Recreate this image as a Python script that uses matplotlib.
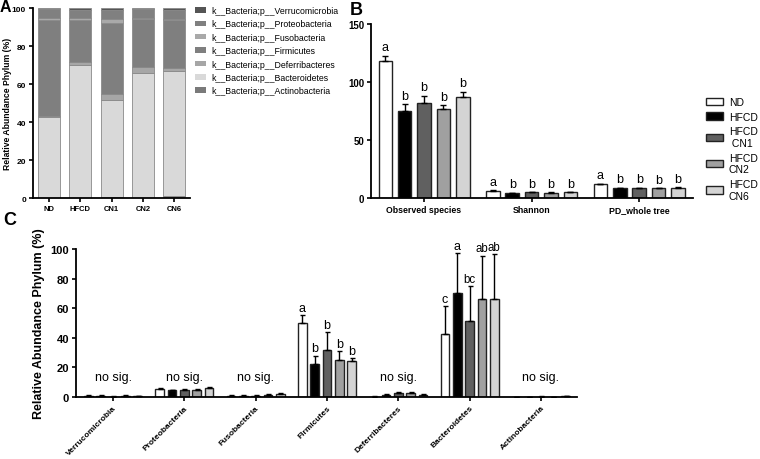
import matplotlib
matplotlib.use("Agg")
import matplotlib.pyplot as plt
import numpy as np
from matplotlib.patches import Patch

plt.rcParams['font.family'] = ['Liberation Sans', 'DejaVu Sans']

# ---------------- Data ----------------
groups_A = ["ND", "HFCD", "CN1", "CN2", "CN6"]
phyla_stack = ["Actinobacteria", "Bacteroidetes", "Deferribacteres", "Firmicutes",
               "Fusobacteria", "Proteobacteria", "Verrucomicrobia"]
stackA_actino = [0.2, 0.2, 0.3, 0.2, 0.8]
stackA_bactero = [42.6, 70.0, 51.3, 65.8, 66.2]
stackA_deferri = [0.5, 1.5, 3.4, 3.0, 1.5]
stackA_firmi = [50.3, 22.0, 37.0, 25.0, 25.0]
stackA_fuso = [1.2, 0.8, 2.0, 1.0, 0.5]
stackA_proteo = [4.7, 4.5, 5.0, 4.5, 5.0]
stackA_verruco = [0.5, 1.0, 1.0, 0.5, 1.0]
stack_colors = ["#7a7a7a", "#d9d9d9", "#a6a6a6", "#7f7f7f", "#a9a9a9", "#808080", "#555555"]

treat_labels = ["ND", "HFCD", "HFCD\n CN1", "HFCD\nCN2", "HFCD\nCN6"]
treat_colors = ["#ffffff", "#000000", "#606060", "#a0a0a0", "#d4d4d4"]

metrics = ["Observed species", "Shannon", "PD_whole tree"]
alpha_mean = [[118.0, 75.3, 81.6, 77.0, 87.4],
              [6.2, 4.4, 4.9, 4.5, 4.9],
              [11.8, 8.6, 8.6, 8.3, 9.0]]
alpha_err = [[4.7, 5.7, 6.6, 3.0, 4.3],
             [0.4, 0.3, 0.3, 0.3, 0.3],
             [0.6, 0.4, 0.4, 0.3, 0.4]]
alpha_letters = [["a", "b", "b", "b", "b"],
                 ["a", "b", "b", "b", "b"],
                 ["a", "b", "b", "b", "b"]]

phyla_C = ["Verrucomicrobia", "Proteobacteria", "Fusobacteria", "Firmicutes",
           "Deferribacteres", "Bacteroidetes", "Actinobacteria"]
abund_mean = [[1.0, 1.0, 0.3, 0.8, 0.6],
              [5.5, 4.5, 4.7, 5.0, 6.0],
              [0.8, 0.9, 0.9, 1.6, 2.2],
              [50.3, 22.0, 32.0, 25.0, 24.0],
              [0.3, 1.5, 3.0, 3.0, 1.5],
              [42.4, 70.0, 51.5, 66.0, 66.5],
              [0.2, 0.2, 0.3, 0.2, 0.6]]
abund_err = [[0.3, 0.3, 0.2, 0.3, 0.2],
             [0.5, 0.4, 0.4, 0.5, 0.6],
             [0.3, 0.3, 0.3, 0.3, 0.3],
             [5.0, 6.0, 12.0, 5.8, 2.2],
             [0.2, 0.4, 0.5, 0.6, 0.4],
             [19.2, 27.0, 23.2, 29.5, 29.9],
             [0.1, 0.1, 0.2, 0.1, 0.3]]
abund_letters = [None, None, None,
                 ["a", "b", "b", "b", "b"],
                 None,
                 ["c", "a", "bc", "ab", "ab"],
                 None]

W, H = 760, 460
fig = plt.figure(figsize=(7.6, 4.6), dpi=100)


def rect(x0, y0, x1, y1):
    # pixel box (top-left origin) -> figure fraction
    return [x0 / W, 1 - y1 / H, (x1 - x0) / W, (y1 - y0) / H]


def style(ax):
    for s in ["top", "right"]:
        ax.spines[s].set_visible(False)
    for s in ["left", "bottom"]:
        ax.spines[s].set_linewidth(1.3)
    ax.tick_params(width=1.2, length=3, pad=2)


# ---------------- Panel A ----------------
axA = fig.add_axes(rect(33, 9, 190, 199))
style(axA)
xa = np.arange(len(groups_A))
layers = [stackA_actino, stackA_bactero, stackA_deferri, stackA_firmi,
          stackA_fuso, stackA_proteo, stackA_verruco]
bottom = np.zeros(len(groups_A))
handles = []
for vals, col, name in zip(layers, stack_colors, phyla_stack):
    axA.bar(xa, vals, width=0.7, bottom=bottom, color=col, edgecolor="#8a8a8a", linewidth=0.6)
    bottom = bottom + np.array(vals)
    handles.append(Patch(facecolor=col, edgecolor="none", label="k__Bacteria;p__" + name))
axA.set_xlim(-0.51, 4.5)
axA.set_ylim(0, 100)
axA.set_yticks([0, 20, 40, 60, 80, 100])
axA.set_xticks(xa)
axA.set_xticklabels(groups_A, fontsize=5.5, fontweight="bold")
for t in axA.get_yticklabels():
    t.set_fontsize(6)
    t.set_fontweight("bold")
axA.set_ylabel("Relative Abundance Phylum (%)", fontsize=6.2, fontweight="bold")
axA.yaxis.set_label_coords(-0.135, 0.5)
fig.legend(handles=handles[::-1], loc="upper left", bbox_to_anchor=(195 / W, 1 - 7 / H),
           frameon=False, fontsize=6.3, handlelength=1.3, handleheight=0.6,
           labelspacing=0.5, handletextpad=0.6, borderaxespad=0, borderpad=0)
fig.text(0 / W, 1 - 0 / H, "A", fontsize=11.5, fontweight="bold", va="top", ha="left")

# ---------------- Panel B ----------------
axB = fig.add_axes(rect(371, 25, 693, 199))
style(axB)
pitchB, wB = 0.18, 0.126
for gi, m in enumerate(metrics):
    for ti in range(5):
        x = gi + (ti - 2) * pitchB
        v = alpha_mean[gi][ti]
        e = alpha_err[gi][ti]
        axB.bar(x, v, width=wB, color=treat_colors[ti], edgecolor="#222222", linewidth=1.0, zorder=2)
        axB.errorbar(x, v, yerr=[[0], [e]], fmt="none", ecolor="black", elinewidth=1.0,
                     capsize=2.2, capthick=1.0, zorder=3)
        axB.text(x, v + e + 2.0, alpha_letters[gi][ti], ha="center", va="bottom", fontsize=9)
axB.set_xlim(-0.493, 2.50)
axB.set_ylim(0, 150)
axB.set_yticks([0, 50, 100, 150])
axB.set_xticks(range(len(metrics)))
axB.set_xticklabels(metrics, fontsize=6.3, fontweight="bold")
for t in axB.get_yticklabels():
    t.set_fontsize(7)
    t.set_fontweight("bold")
hB = [Patch(facecolor=c, edgecolor="#222222", linewidth=1.0, label=l)
      for c, l in zip(treat_colors, treat_labels)]
fig.legend(handles=hB, loc="upper left", bbox_to_anchor=(706 / W, 1 - 98 / H),
           frameon=False, fontsize=7.5, handlelength=1.6, handleheight=0.7,
           labelspacing=0.45, handletextpad=0.6, borderaxespad=0, borderpad=0)
fig.text(350 / W, 1 - 2 / H, "B", fontsize=13, fontweight="bold", va="top", ha="left")

# ---------------- Panel C ----------------
axC = fig.add_axes(rect(76, 250, 577, 398))
style(axC)
pitchC, wC = 0.1725, 0.12
for gi, p in enumerate(phyla_C):
    for ti in range(5):
        x = gi + (ti - 2) * pitchC
        v = abund_mean[gi][ti]
        e = abund_err[gi][ti]
        axC.bar(x, v, width=wC, color=treat_colors[ti], edgecolor="#222222", linewidth=1.0, zorder=2)
        axC.errorbar(x, v, yerr=[[0], [e]], fmt="none", ecolor="black", elinewidth=1.0,
                     capsize=1.8, capthick=1.0, zorder=3)
        if abund_letters[gi] is not None:
            lab = abund_letters[gi][ti]
            axC.text(x, v + e + 0.8, lab, ha="center", va="bottom",
                     fontsize=9 if len(lab) == 1 else 8.3)
    if abund_letters[gi] is None:
        axC.text(gi, 9.5, "no sig.", ha="center", va="bottom", fontsize=9)
axC.set_xlim(-0.519, 6.505)
axC.set_ylim(0, 100)
axC.set_yticks([0, 20, 40, 60, 80, 100])
axC.set_xticks(range(len(phyla_C)))
axC.set_xticklabels(phyla_C, fontsize=6.0, fontweight="bold", rotation=45,
                    ha="right", rotation_mode="anchor")
for t in axC.get_yticklabels():
    t.set_fontsize(8)
    t.set_fontweight("bold")
axC.set_ylabel("Relative Abundance Phylum (%)", fontsize=9, fontweight="bold", labelpad=4)
fig.text(3 / W, 1 - 212 / H, "C", fontsize=13, fontweight="bold", va="top", ha="left")

fig.savefig("out.png", dpi=100)
